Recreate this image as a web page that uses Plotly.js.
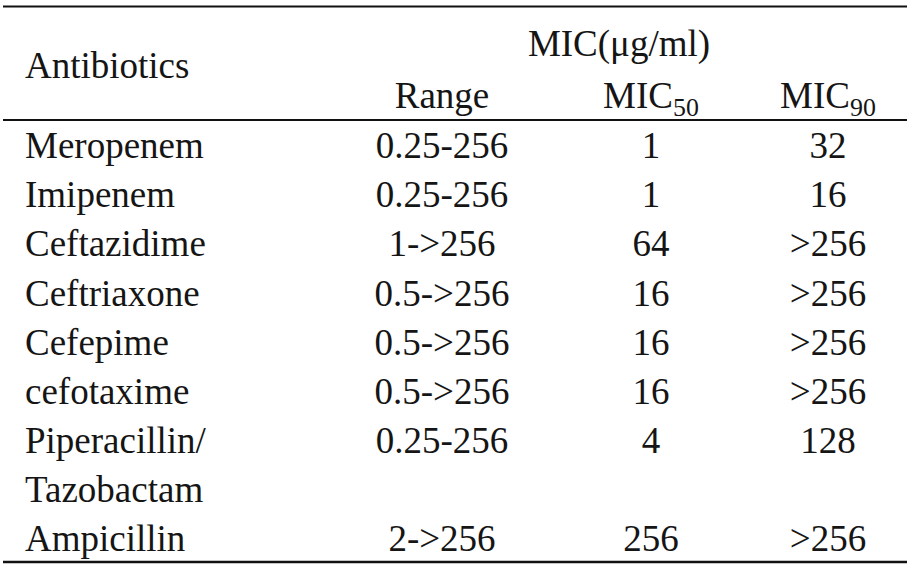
<!DOCTYPE html>
<html>
<head>
<meta charset="utf-8">
<script src="https://cdn.plot.ly/plotly-3.0.1.min.js"></script>
<style>html,body{margin:0;padding:0;background:#fff;}#chart{width:920px;height:569px;}</style>
</head>
<body>
<div id="chart"></div>
<script>
// ---- data ----
var antibiotics = ["Meropenem", "Imipenem", "Ceftazidime", "Ceftriaxone", "Cefepime", "cefotaxime", "Piperacillin/<br>Tazobactam", "Ampicillin"];
var micRange = ["0.25-256", "0.25-256", "1->256", "0.5->256", "0.5->256", "0.5->256", "0.25-256", "2->256"];
var mic50 = ["1", "1", "64", "16", "16", "16", "4", "256"];
var mic90 = ["32", "16", ">256", ">256", ">256", ">256", "128", ">256"];
var headerGroup = "MIC(μg/ml)";
var headerName = "Antibiotics";
var headerCols = ["Range", "MIC<sub>50</sub>", "MIC<sub>90</sub>"];

// ---- layout helpers (positions in pixel-like units) ----
var W = 920, H = 569;
var colX = {name: 25, range: 442, m50: 651, m90: 828};
var firstLine = 149, lineStep = 49.1;

// line slots: each name line occupies one slot
var nameX = [], nameY = [], nameT = [];
var valY = [];
var slot = 0;
antibiotics.forEach(function (a) {
  var parts = a.split("<br>");
  valY.push(slot);
  parts.forEach(function (p) { nameX.push(colX.name); nameY.push(slot); nameT.push(p); slot++; });
});
function px2slot(p) { return (p - firstLine) / lineStep; }

var font = {family: "Liberation Serif, Times New Roman, serif", size: 37, color: "#151515"};

function col(x, texts) {
  return {
    type: "scatter", mode: "text", x: texts.map(function () { return x; }), y: valY,
    text: texts, textposition: "middle center", textfont: font, hoverinfo: "skip", showlegend: false
  };
}

var traces = [
  {type: "scatter", mode: "text", x: nameX, y: nameY, text: nameT, textposition: "middle right",
   textfont: font, hoverinfo: "skip", showlegend: false},
  col(colX.range, micRange),
  col(colX.m50, mic50),
  col(colX.m90, mic90),
  // header
  {type: "scatter", mode: "text", x: [colX.name, 619], y: [px2slot(69), px2slot(47)],
   text: [headerName, headerGroup], textposition: ["middle right", "middle center"],
   textfont: font, hoverinfo: "skip", showlegend: false},
  {type: "scatter", mode: "text", x: [colX.range, colX.m50, colX.m90],
   y: [px2slot(99), px2slot(99), px2slot(99)], text: headerCols, textposition: "middle center",
   textfont: font, hoverinfo: "skip", showlegend: false}
];

function hline(p, w) {
  return {type: "line", xref: "x", yref: "paper", x0: 3, x1: 907, y0: 1 - p / H, y1: 1 - p / H,
          line: {color: "#111", width: w}};
}

var layout = {
  width: W, height: H,
  margin: {l: 0, r: 0, t: 0, b: 0},
  paper_bgcolor: "#fff", plot_bgcolor: "#fff",
  xaxis: {range: [0, W], visible: false, fixedrange: true},
  yaxis: {range: [px2slot(H), px2slot(0)], visible: false, fixedrange: true},
  shapes: [hline(6.5, 2), hline(120, 2), hline(562, 2.5)]
};

Plotly.newPlot("chart", traces, layout, {displayModeBar: false, staticPlot: true});
</script>
</body>
</html>
